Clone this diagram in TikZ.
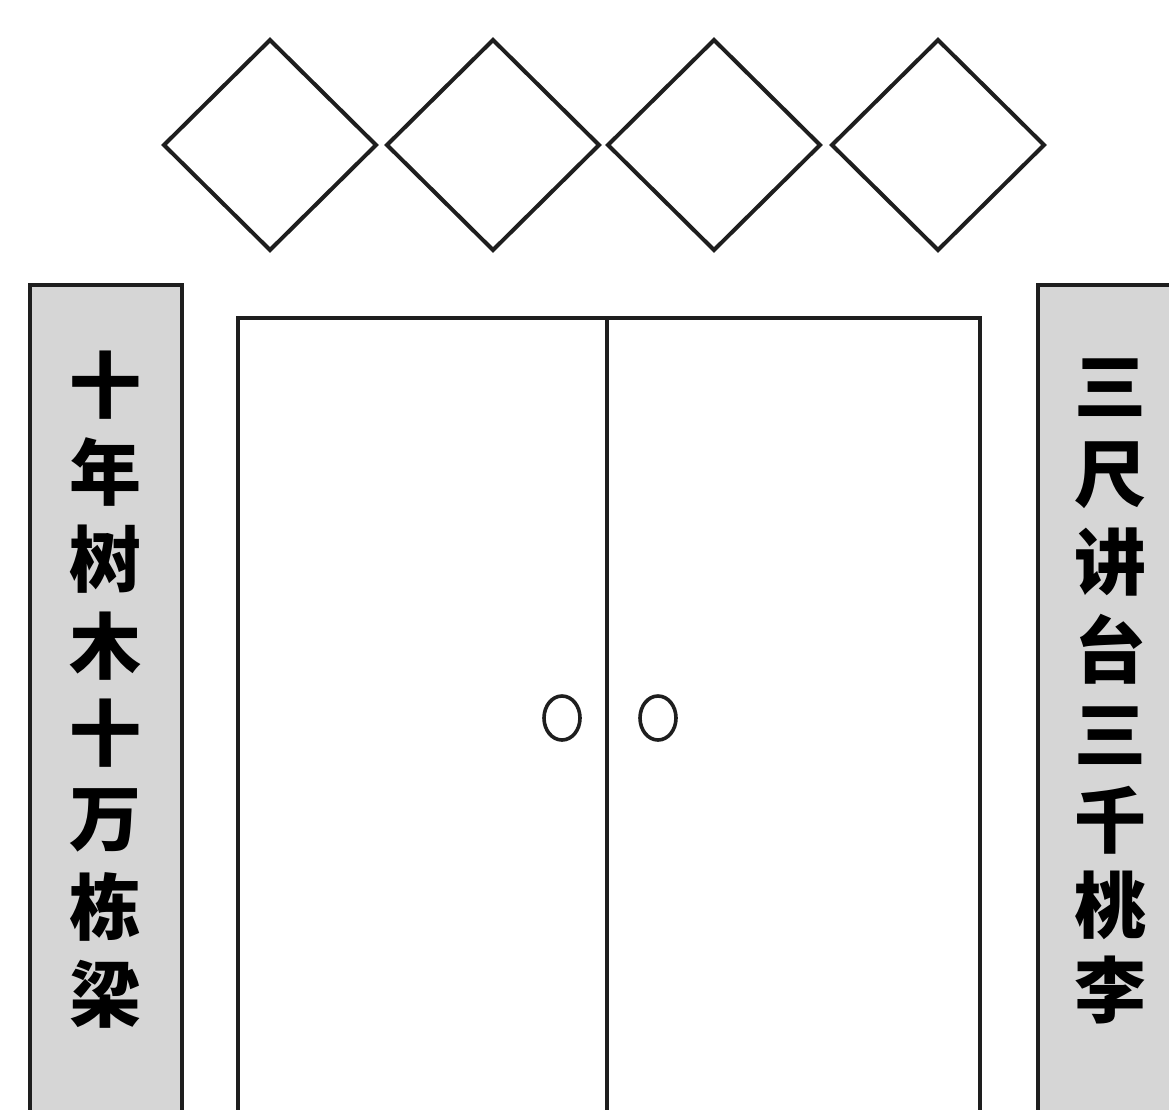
\documentclass[tikz,border=0pt]{standalone}
\usepackage{fontspec}
\newfontfamily\cjk{Noto Sans CJK SC}
\usetikzlibrary{shapes.geometric}
\definecolor{panelgray}{RGB}{214,214,214}
\definecolor{inkline}{RGB}{30,30,30}
\begin{document}
\begin{tikzpicture}[x=1pt,y=-1pt,
  lozenge/.style={draw=inkline,line width=4pt,shape=diamond,minimum width=212pt,minimum height=210pt,inner sep=0pt,outer sep=0pt},
  panelbox/.style={draw=inkline,line width=3.6pt,fill=panelgray,rectangle,anchor=north west,inner sep=0pt,outer sep=0pt},
  doorbox/.style={draw=inkline,line width=3.4pt,rectangle,anchor=north west,inner sep=0pt,outer sep=0pt},
  knob/.style={draw=inkline,shape=ellipse,minimum width=36pt,minimum height=44pt,inner sep=0pt,line width=3.6pt},
  glyph/.style={font=\cjk\bfseries\fontsize{72}{72}\selectfont,inner sep=0pt,text=black}]
\useasboundingbox (0,0) rectangle (1169,1110);
\clip (0,0) rectangle (1169,1110);
% diamonds
\node[lozenge] (d1) at (270,145) {};
\node[lozenge] (d2) at (493,145) {};
\node[lozenge] (d3) at (714,145) {};
\node[lozenge] (d4) at (938,145) {};
% side panels
\node[panelbox,minimum width=152pt,minimum height=850pt] (lp) at (30,285) {};
\node[panelbox,minimum width=160pt,minimum height=850pt] (rp) at (1038,285) {};
% door
\node[doorbox,minimum width=742pt,minimum height=820pt] (door) at (238,318) {};
\coordinate (midtop) at (607,318);
\coordinate (midbot) at (607,1140);
\draw[inkline,line width=3.4pt] (midtop) -- (midbot);
% knobs
\node[knob] (k1) at (562,718) {};
\node[knob] (k2) at (658,718) {};
% left couplet
\node[glyph] (l1) at (105,385) {十};
\node[glyph] (l2) at (105,472) {年};
\node[glyph] (l3) at (105,559) {树};
\node[glyph] (l4) at (105,646) {木};
\node[glyph] (l5) at (105,733) {十};
\node[glyph] (l6) at (105,820) {万};
\node[glyph] (l7) at (105,907) {栋};
\node[glyph] (l8) at (105,994) {梁};
% right couplet
\node[glyph] (r1) at (1110,388) {三};
\node[glyph] (r2) at (1110,475) {尺};
\node[glyph] (r3) at (1110,562) {讲};
\node[glyph] (r4) at (1110,649) {台};
\node[glyph] (r5) at (1110,736) {三};
\node[glyph] (r6) at (1110,820) {千};
\node[glyph] (r7) at (1110,905) {桃};
\node[glyph] (r8) at (1110,990) {李};
\end{tikzpicture}
\end{document}
